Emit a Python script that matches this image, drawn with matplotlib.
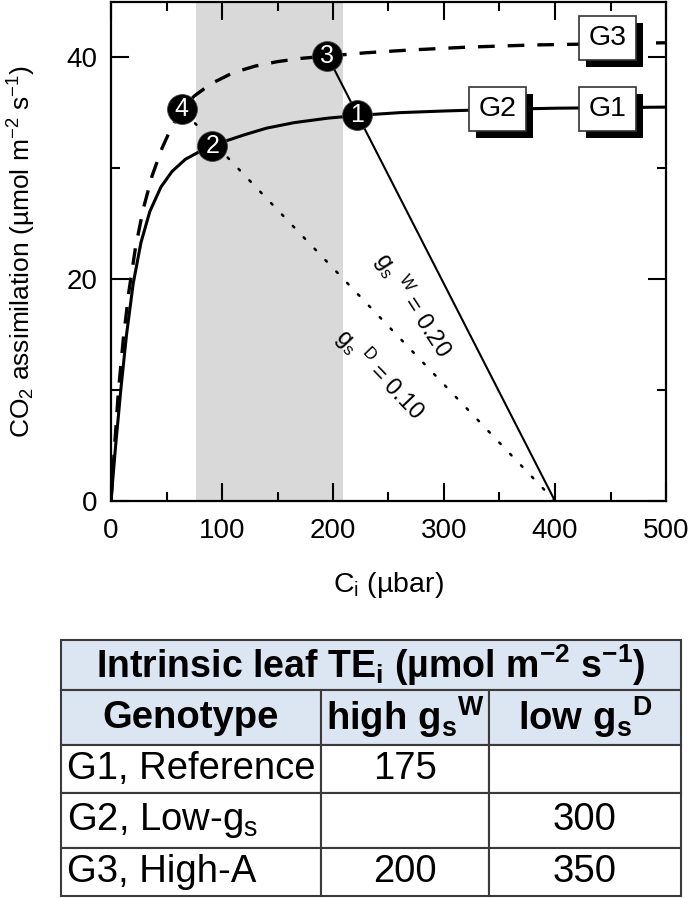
import matplotlib
matplotlib.use('Agg')
import matplotlib.pyplot as plt
import matplotlib.patheffects as pe
import matplotlib.transforms as mtransforms
from matplotlib.patches import Rectangle
from matplotlib.ticker import MultipleLocator

plt.rcParams['font.family'] = ['Liberation Sans', 'DejaVu Sans']
plt.rcParams['mathtext.fontset'] = 'custom'
plt.rcParams['mathtext.rm'] = 'Liberation Sans'
plt.rcParams['mathtext.it'] = 'Liberation Sans:italic'
plt.rcParams['mathtext.bf'] = 'Liberation Sans:bold'

# ---------------- data ----------------
# A/Ci response, genotypes G1 & G2 (solid)
ci_g1 = [0, 4, 9, 14, 20, 27, 35, 45, 55, 67, 80, 91.3, 105, 120, 140, 165, 195, 222, 260, 300, 350, 400, 450, 500]
A_g1 = [0, 4.8, 10.2, 15.0, 19.6, 23.3, 26.1, 28.3, 29.7, 30.8, 31.5, 31.95, 32.5, 33.0, 33.6, 34.1, 34.5, 34.75, 35.0, 35.15, 35.3, 35.4, 35.45, 35.5]
# A/Ci response, genotype G3 (dashed)
ci_g3 = [0, 3, 6.6, 11, 16, 22, 29, 37, 46, 55, 63.7, 75, 90, 110, 130, 150, 172, 195, 230, 270, 320, 380, 440, 500]
A_g3 = [0, 4.6, 9.8, 14.5, 18.8, 22.8, 26.3, 29.3, 31.8, 33.8, 35.2, 36.5, 37.6, 38.6, 39.2, 39.6, 39.9, 40.1, 40.4, 40.65, 40.9, 41.1, 41.2, 41.3]

# supply functions (stomatal conductance lines), from Ca = 400
gsW_ci = [400, 195]
gsW_A = [0, 40.1]
gsD_ci = [400, 63.7]
gsD_A = [0, 35.3]

# numbered operating points
point_labels = ['1', '2', '3', '4']
point_ci = [221.9, 91.3, 195, 63.7]
point_A = [34.8, 31.95, 40.1, 35.3]

# genotype tags
genotype_labels = ['G1', 'G2', 'G3']
genotype_ci = [447, 348, 447]
genotype_A = [35.3, 35.3, 41.7]

# shaded Ci range
shade_ci = [76.5, 209]

# table
table_title = r'Intrinsic leaf TE$_\mathbf{i}$ (µmol m$^\mathbf{-2}$ s$^\mathbf{-1}$)'
col_headers = ['Genotype', r'high g$_\mathbf{s}$$^\mathbf{W}$', r'low g$_\mathbf{s}$$^\mathbf{D}$']
row_labels = ['G1, Reference', r'G2, Low-g$_\mathregular{s}$', 'G3, High-A']
te_high_gs = ['175', '', '200']
te_low_gs = ['', '300', '350']

# ---------------- figure ----------------
DPI = 100
fig = plt.figure(figsize=(6.89, 8.98), dpi=DPI)
ax = fig.add_axes([111 / 689, 1 - 501 / 898, (666 - 111) / 689, (501 - 1.7) / 898])

ax.axvspan(shade_ci[0], shade_ci[1], color='#d9d9d9', lw=0, zorder=0)

ax.plot(ci_g1, A_g1, color='black', lw=2.2, zorder=3)
ax.plot(ci_g3, A_g3, color='black', lw=2.4, ls=(0, (5, 3.9)), zorder=3)
ax.plot(gsW_ci, gsW_A, color='black', lw=1.5, zorder=3)
ax.plot(gsD_ci, gsD_A, color='black', lw=1.8, ls=(0, (0.8, 5.5)), zorder=3,
        dash_capstyle='round')

ax.scatter(point_ci, point_A, s=21.5 ** 2, c='black', edgecolors='#444444',
           linewidths=0.6, zorder=7)
for lab, x, y in zip(point_labels, point_ci, point_A):
    ax.text(x, y, lab, color='white', fontsize=18, ha='center', va='center',
            zorder=8)

# genotype tags: white box with solid black drop shadow (size in points)
box_w, box_h = 41, 31.5
pt2px = mtransforms.Affine2D().scale(DPI / 72.0)
for lab, x, y in zip(genotype_labels, genotype_ci, genotype_A):
    tr = pt2px + mtransforms.ScaledTranslation(x, y, ax.transData)
    r = Rectangle((-box_w / 2, -box_h / 2), box_w, box_h, transform=tr,
                  fc='white', ec='#333333', lw=1.2, zorder=9)
    r.set_path_effects([
        pe.SimplePatchShadow(offset=(5.5, -4.8), shadow_rgbFace='black', alpha=1.0),
        pe.Normal()])
    ax.add_patch(r)
    ax.text(x, y, lab, fontsize=20.5, ha='center', va='center', zorder=10)

ax.text(272, 17.7, r'g$_\mathregular{s}$ $^\mathregular{W}$ = 0.20', fontsize=17,
        rotation=-57, ha='center', va='center', rotation_mode='anchor', zorder=4)
ax.text(242, 11.4, r'g$_\mathregular{s}$ $^\mathregular{D}$ = 0.10', fontsize=17,
        rotation=-46, ha='center', va='center', rotation_mode='anchor', zorder=4)

ax.set_xlim(0, 500)
ax.set_ylim(0, 45)
ax.xaxis.set_major_locator(MultipleLocator(100))
ax.xaxis.set_minor_locator(MultipleLocator(50))
ax.yaxis.set_major_locator(MultipleLocator(20))
ax.yaxis.set_minor_locator(MultipleLocator(10))
ax.tick_params(which='both', direction='in', top=True, right=True, width=1.5,
               labelsize=20, color='black')
ax.tick_params(which='major', length=13)
ax.tick_params(which='minor', length=6.5)
ax.tick_params(axis='x', which='major', pad=12)
ax.tick_params(axis='y', which='major', pad=10)
for s in ax.spines.values():
    s.set_linewidth(1.6)
ax.set_xlabel(r'C$_\mathregular{i}$ (µbar)', fontsize=20.5, labelpad=19)
ax.set_ylabel(r'CO$_\mathregular{2}$ assimilation (µmol m$^\mathregular{-2}$ s$^\mathregular{-1}$)',
              fontsize=19, labelpad=20)

# ---------------- table ----------------
col_w = [260, 168, 192]
row_h = [50, 55, 48, 55, 48]
tw, th = sum(col_w), sum(row_h)
tax = fig.add_axes([61 / 689, (898 - 896) / 898, tw / 689, th / 898])
tax.set_xlim(0, tw)
tax.set_ylim(th, 0)
tax.axis('off')
edge = '#3a3a3a'
head_fc = '#dce6f2'

y0 = 0
tax.add_patch(Rectangle((0, y0), tw, row_h[0], fc=head_fc, ec=edge, lw=1.5, clip_on=False))
tax.text(tw / 2, y0 + row_h[0] / 2, table_title, fontsize=27, fontweight='bold',
         ha='center', va='center')
y0 += row_h[0]

rows = [col_headers] + [[r, h, l] for r, h, l in zip(row_labels, te_high_gs, te_low_gs)]
for i, row in enumerate(rows):
    h = row_h[i + 1]
    x0 = 0
    for j, val in enumerate(row):
        fc = head_fc if i == 0 else 'white'
        tax.add_patch(Rectangle((x0, y0), col_w[j], h, fc=fc, ec=edge, lw=1.5, clip_on=False))
        if i == 0:
            tax.text(x0 + col_w[j] / 2, y0 + h / 2, val, fontsize=27.5, fontweight='bold',
                     ha='center', va='center')
        elif j == 0:
            tax.text(x0 + 6, y0 + h / 2, val, fontsize=27.5, ha='left', va='center')
        else:
            tax.text(x0 + col_w[j] / 2, y0 + h / 2, val, fontsize=27.5,
                     ha='center', va='center')
        x0 += col_w[j]
    y0 += h

fig.savefig('out.png', dpi=DPI)
